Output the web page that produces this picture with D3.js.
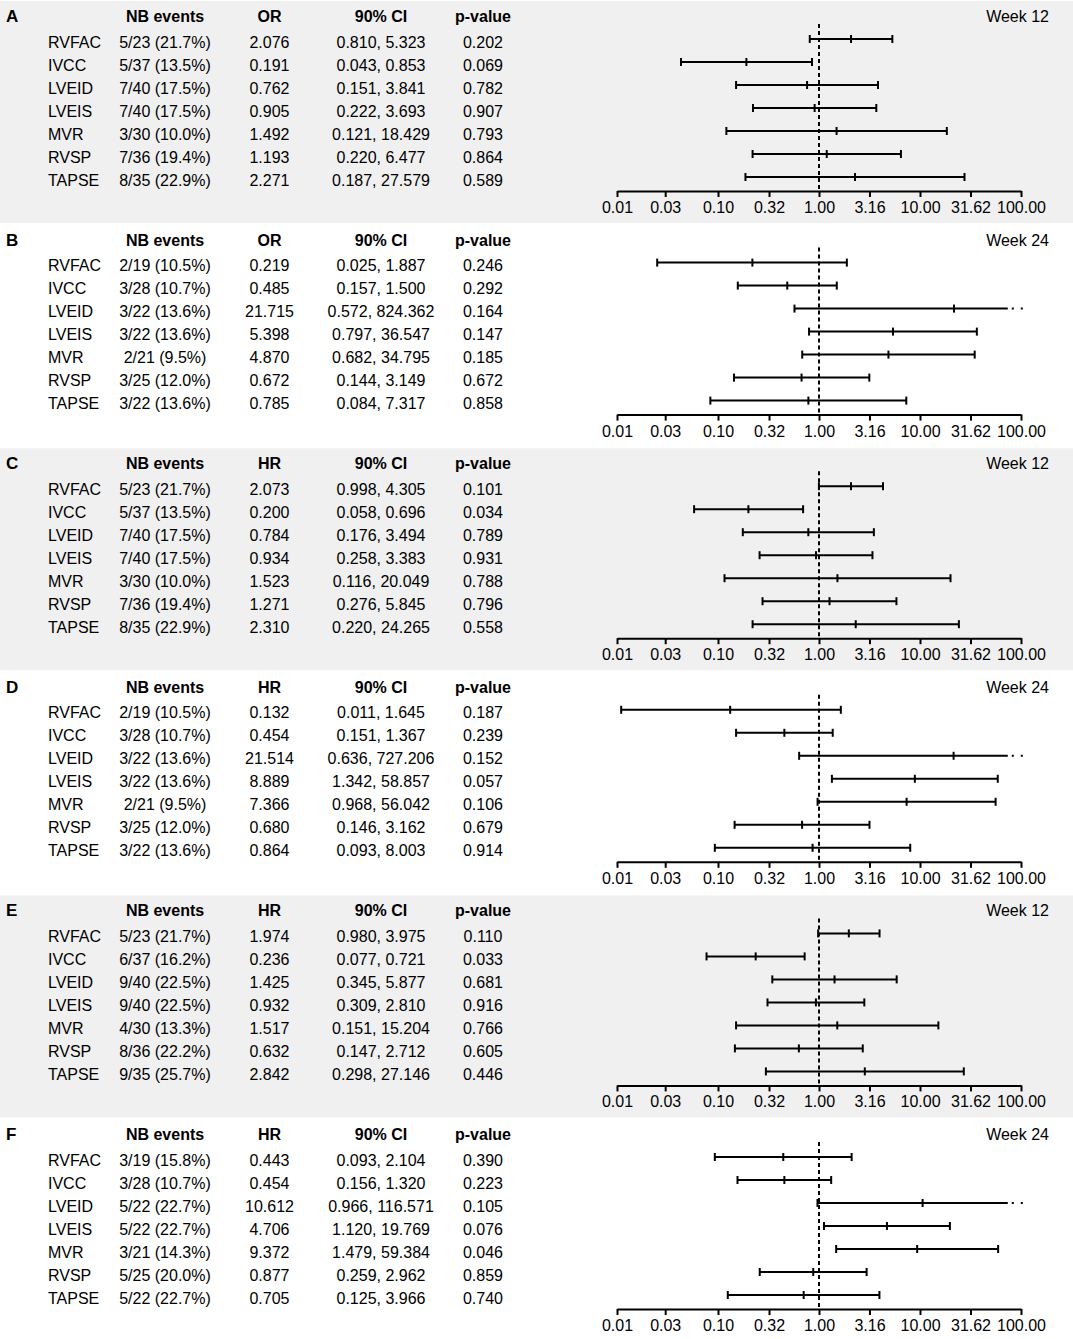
<!DOCTYPE html>
<html><head><meta charset="utf-8">
<script src="https://cdn.jsdelivr.net/npm/d3@7"></script>
<style>body{margin:0;background:#fff}svg{display:block;font-family:"Liberation Sans",Arial,sans-serif}</style>
</head><body><svg id="c" width="1073" height="1339"></svg>
<script>
const measures = ["RVFAC","IVCC","LVEID","LVEIS","MVR","RVSP","TAPSE"];
const panelLetters = ["A","B","C","D","E","F"];
const statNames = ["OR","OR","HR","HR","HR","HR"];
const weekLabels = ["Week 12","Week 24","Week 12","Week 24","Week 12","Week 24"];
const tickValues = [0.01,0.03,0.10,0.32,1.00,3.16,10.00,31.62,100.00];

const eventsA = ["5/23 (21.7%)","5/37 (13.5%)","7/40 (17.5%)","7/40 (17.5%)","3/30 (10.0%)","7/36 (19.4%)","8/35 (22.9%)"];
const estA = [2.076,0.191,0.762,0.905,1.492,1.193,2.271];
const loA  = [0.810,0.043,0.151,0.222,0.121,0.220,0.187];
const hiA  = [5.323,0.853,3.841,3.693,18.429,6.477,27.579];
const pA   = ["0.202","0.069","0.782","0.907","0.793","0.864","0.589"];

const eventsB = ["2/19 (10.5%)","3/28 (10.7%)","3/22 (13.6%)","3/22 (13.6%)","2/21 (9.5%)","3/25 (12.0%)","3/22 (13.6%)"];
const estB = [0.219,0.485,21.715,5.398,4.870,0.672,0.785];
const loB  = [0.025,0.157,0.572,0.797,0.682,0.144,0.084];
const hiB  = [1.887,1.500,824.362,36.547,34.795,3.149,7.317];
const pB   = ["0.246","0.292","0.164","0.147","0.185","0.672","0.858"];

const eventsC = ["5/23 (21.7%)","5/37 (13.5%)","7/40 (17.5%)","7/40 (17.5%)","3/30 (10.0%)","7/36 (19.4%)","8/35 (22.9%)"];
const estC = [2.073,0.200,0.784,0.934,1.523,1.271,2.310];
const loC  = [0.998,0.058,0.176,0.258,0.116,0.276,0.220];
const hiC  = [4.305,0.696,3.494,3.383,20.049,5.845,24.265];
const pC   = ["0.101","0.034","0.789","0.931","0.788","0.796","0.558"];

const eventsD = ["2/19 (10.5%)","3/28 (10.7%)","3/22 (13.6%)","3/22 (13.6%)","2/21 (9.5%)","3/25 (12.0%)","3/22 (13.6%)"];
const estD = [0.132,0.454,21.514,8.889,7.366,0.680,0.864];
const loD  = [0.011,0.151,0.636,1.342,0.968,0.146,0.093];
const hiD  = [1.645,1.367,727.206,58.857,56.042,3.162,8.003];
const pD   = ["0.187","0.239","0.152","0.057","0.106","0.679","0.914"];

const eventsE = ["5/23 (21.7%)","6/37 (16.2%)","9/40 (22.5%)","9/40 (22.5%)","4/30 (13.3%)","8/36 (22.2%)","9/35 (25.7%)"];
const estE = [1.974,0.236,1.425,0.932,1.517,0.632,2.842];
const loE  = [0.980,0.077,0.345,0.309,0.151,0.147,0.298];
const hiE  = [3.975,0.721,5.877,2.810,15.204,2.712,27.146];
const pE   = ["0.110","0.033","0.681","0.916","0.766","0.605","0.446"];

const eventsF = ["3/19 (15.8%)","3/28 (10.7%)","5/22 (22.7%)","5/22 (22.7%)","3/21 (14.3%)","5/25 (20.0%)","5/22 (22.7%)"];
const estF = [0.443,0.454,10.612,4.706,9.372,0.877,0.705];
const loF  = [0.093,0.156,0.966,1.120,1.479,0.259,0.125];
const hiF  = [2.104,1.320,116.571,19.769,59.384,2.962,3.966];
const pF   = ["0.390","0.223","0.105","0.076","0.046","0.859","0.740"];

const panelEvents = [eventsA,eventsB,eventsC,eventsD,eventsE,eventsF];
const panelEst = [estA,estB,estC,estD,estE,estF];
const panelLo = [loA,loB,loC,loD,loE,loF];
const panelHi = [hiA,hiB,hiC,hiD,hiE,hiF];
const panelP = [pA,pB,pC,pD,pE,pF];

const CLIP = 74;   // upper display limit before the dotted continuation
const svg = d3.select("#c");
const x = d3.scaleLog().domain([0.01,100]).range([617,1021]);
const panelH = 223.6;
const fmtCI = v => v.toFixed(3);

panelLetters.forEach((letter, i) => {
  const o = i * panelH;
  const g = svg.append("g").attr("transform", `translate(0,${o})`);
  if (i % 2 === 0) g.append("rect").attr("x",0).attr("y",1).attr("width",1073).attr("height",222).attr("fill","#f0f0f0");

  g.append("text").attr("x",6).attr("y",22).attr("font-size",17).attr("font-weight","bold").text(letter);
  const hdr = [["NB events",165],[statNames[i],269.5],["90% CI",381],["p-value",483]];
  hdr.forEach(([t,cx]) => g.append("text").attr("x",cx).attr("y",22).attr("text-anchor","middle")
    .attr("font-size",16).attr("font-weight","bold").text(t));
  g.append("text").attr("x",1049).attr("y",22).attr("text-anchor","end").attr("font-size",16).text(weekLabels[i]);

  const y = j => 39 + 23*j;
  measures.forEach((m,j) => {
    const by = 47.5 + 23*j;
    g.append("text").attr("x",48).attr("y",by).attr("font-size",16).text(m);
    g.append("text").attr("x",165).attr("y",by).attr("text-anchor","middle").attr("font-size",16).text(panelEvents[i][j]);
    g.append("text").attr("x",269.5).attr("y",by).attr("text-anchor","middle").attr("font-size",16).text(panelEst[i][j].toFixed(3));
    g.append("text").attr("x",381).attr("y",by).attr("text-anchor","middle").attr("font-size",16)
      .text(fmtCI(panelLo[i][j]) + ", " + fmtCI(panelHi[i][j]));
    g.append("text").attr("x",483).attr("y",by).attr("text-anchor","middle").attr("font-size",16).text(panelP[i][j]);
  });

  g.append("line").attr("x1",x(1)).attr("x2",x(1)).attr("y1",24).attr("y2",191)
    .attr("stroke","#000").attr("stroke-width",2).attr("stroke-dasharray","4,3");

  measures.forEach((m,j) => {
    const lo = panelLo[i][j], hi = panelHi[i][j], est = panelEst[i][j];
    const yy = y(j);
    const trunc = hi > CLIP;
    const hiDraw = trunc ? CLIP : hi;
    g.append("line").attr("x1",x(lo)).attr("x2",x(hiDraw)).attr("y1",yy).attr("y2",yy)
      .attr("stroke","#000").attr("stroke-width",2);
    const caps = trunc ? [lo, est] : [lo, est, hi];
    caps.forEach(v => g.append("line").attr("x1",x(v)).attr("x2",x(v)).attr("y1",yy-4).attr("y2",yy+4)
      .attr("stroke","#000").attr("stroke-width",2));
    if (trunc) {
      g.append("line").attr("x1",x(CLIP)).attr("x2",x(100)+2).attr("y1",yy).attr("y2",yy)
        .attr("stroke","#000").attr("stroke-width",2).attr("stroke-dasharray","0,4,2,7,2,30");
    }
  });

  const ax = g.append("g").attr("transform","translate(0,191)")
    .call(d3.axisBottom(x).tickValues(tickValues).tickSize(6).tickSizeOuter(0).tickFormat(d3.format(".2f")));
  ax.select(".domain").attr("stroke","#000").attr("stroke-width",2);
  ax.selectAll(".tick line").attr("stroke","#000").attr("stroke-width",2);
  ax.selectAll(".tick text").attr("font-size",16).attr("fill","#000")
    .attr("font-family","'Liberation Sans',Arial,sans-serif").attr("dy",null).attr("y",22);
});
</script></body></html>
